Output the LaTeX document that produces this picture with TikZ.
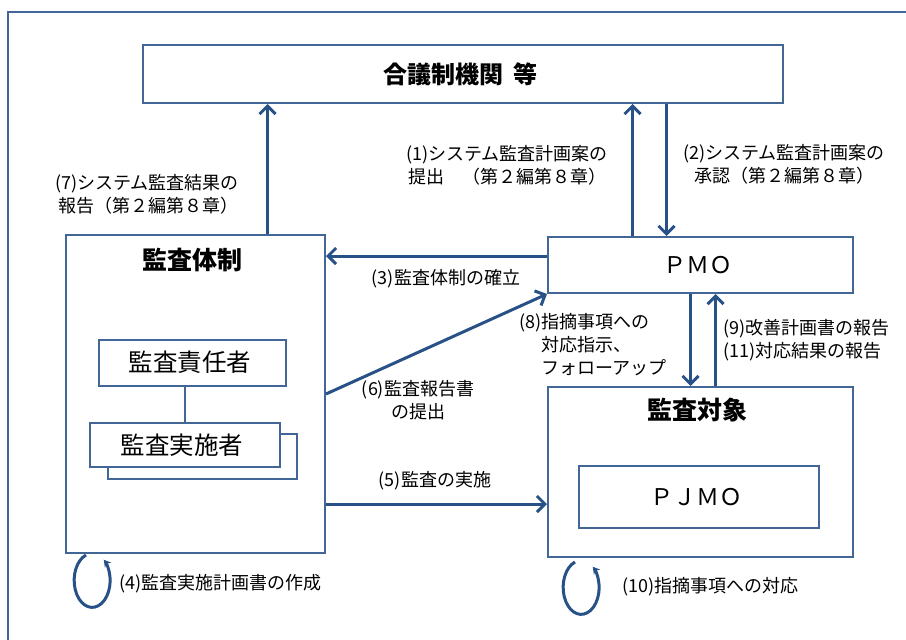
\documentclass[tikz,border=0pt]{standalone}
\usepackage{fontspec}
\setmainfont{Noto Sans CJK JP}
\usepackage{tikz}
\usetikzlibrary{positioning, arrows.meta}

\definecolor{boxblue}{RGB}{66,102,150}
\definecolor{arrowblue}{RGB}{40,82,135}

\begin{document}
\begin{tikzpicture}[x = 1pt, y = -1pt,
    every node/.style = { align = center, inner sep = 2pt },
    unitbox/.style = { draw = boxblue, line width = 2pt, fill = white },
    titletext/.style = { font = \bfseries\fontsize{25}{30}\selectfont },
    lbl/.style = { font = \fontsize{18}{23}\selectfont },
    flowarrow/.style = { draw = arrowblue, line width = 3pt,
      -{Straight Barb[length = 8pt, width = 16pt]} },
    selfloop/.style = { draw = arrowblue, line width = 3pt,
      -{Stealth[length = 7pt, width = 8pt]} }]
    \useasboundingbox (0,0) rectangle (906,640);
    \draw [boxblue, line width = 2pt] (8,640) -- (8,12) -- (906,12);

    \node [unitbox, minimum width = 640pt, minimum height = 58pt,
      font = \bfseries\fontsize{24}{28}\selectfont] (council) at (463,74) { 合議制機関\hspace{0.4em}等 };

    \node [unitbox, minimum width = 259pt, minimum height = 318pt] (taisei) at (195.5,394) {};
    \node [titletext, below = 12pt of taisei.north] (taiseititle) { 監査体制 };
    \node [unitbox, minimum width = 187pt, minimum height = 46pt,
      font = \fontsize{24.5}{28}\selectfont] (sekinin) at (192.5,362.5) { 監査責任者 };
    \node [unitbox, minimum width = 189pt, minimum height = 45pt] (jisshiback) at (202.5,456) {};
    \node [unitbox, minimum width = 190pt, minimum height = 44pt,
      font = \fontsize{24.5}{28}\selectfont] (jisshi) at (184.5,445) { 監査実施者 };
    \draw [boxblue, line width = 2pt] (jisshi.north) -- (jisshi.north |- sekinin.south);

    \node [unitbox, minimum width = 305pt, minimum height = 56pt,
      font = \fontsize{23}{26}\selectfont] (pmo) at (700.5,265) { ＰＭＯ };
    \node [unitbox, minimum width = 305pt, minimum height = 170pt] (taisho) at (700.5,472) {};
    \node [titletext, below = 10pt of taisho.north] (taishotitle) { 監査対象 };
    \node [unitbox, minimum width = 240pt, minimum height = 62pt,
      font = \fontsize{23}{26}\selectfont] (pjmo) at (699,497) { ＰＪＭＯ };

    \draw [flowarrow] ([xshift = 72pt] taisei.north) -- ([xshift = 72pt] taisei.north |- council.south);
    \draw [flowarrow] ([xshift = -68pt] pmo.north) -- ([xshift = -68pt] pmo.north |- council.south);
    \draw [flowarrow] ([xshift = -34pt] pmo.north |- council.south) -- ([xshift = -34pt] pmo.north);
    \draw [flowarrow] ([yshift = 9pt] pmo.west) -- ([yshift = 9pt] pmo.west -| taisei.east);
    \draw [flowarrow] (taisei.east) -- (pmo.south west);
    \draw [flowarrow] ([yshift = -110pt] taisei.east) -- ([yshift = -110pt] taisei.east -| taisho.west);
    \draw [flowarrow] ([xshift = -10pt] pmo.south) -- ([xshift = -10pt] pmo.south |- taisho.north);
    \draw [flowarrow] ([xshift = 15pt] taisho.north) -- ([xshift = 15pt] taisho.north |- pmo.south);

    \draw [selfloop] (taisei.south west) ++(21,1) arc[start angle = 250, end angle = -50, x radius = 18, y radius = 27];
    \draw [selfloop] (taisho.south west) ++(28,4) arc[start angle = 250, end angle = -50, x radius = 18, y radius = 27];

    \node [lbl, align = right] (lbl7) at (147,194) { (7)システム監査結果の \\ 報告（第２編第８章） };
    \node [lbl] (lbl1) at (507,165) { (1)システム監査計画案の \\ 提出　（第２編第８章） };
    \node [lbl] (lbl2) at (784,164) { (2)システム監査計画案の \\ 承認（第２編第８章） };
    \node [lbl] (lbl3) at (448,279) { (3)監査体制の確立 };
    \node [lbl] (lbl6) at (418,400) { (6)監査報告書 \\ の提出 };
    \node [lbl, align = left, anchor = west] (lbl8) at (517,346)
      { (8)指摘事項への \\ \phantom{(8)}対応指示、 \\ \phantom{(8)}フォローアップ };
    \node [lbl, align = left, anchor = west] (lbl9) at (721,340) { (9)改善計画書の報告 \\ (11)対応結果の報告 };
    \node [lbl] (lbl5) at (437,481) { (5)監査の実施 };
    \node [lbl, anchor = west] (lbl4) at (117,584) { (4)監査実施計画書の作成 };
    \node [lbl, anchor = west] (lbl10) at (620,587) { (10)指摘事項への対応 };
\end{tikzpicture}
\end{document}
